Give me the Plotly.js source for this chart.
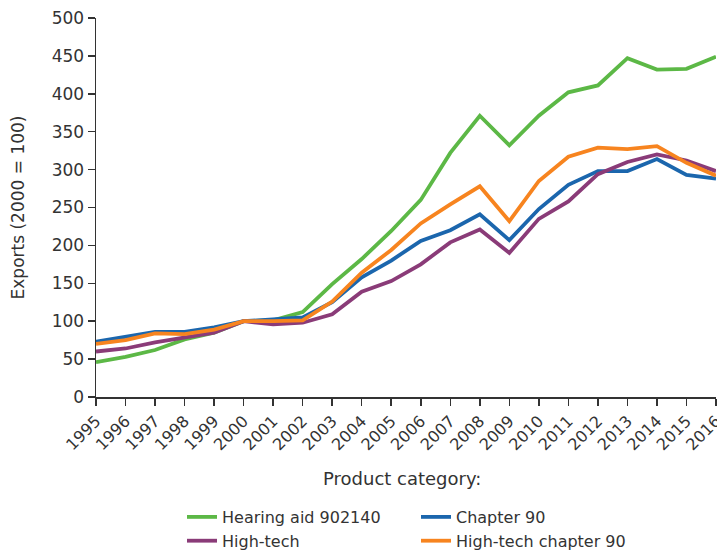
<!DOCTYPE html>
<html>
<head>
<meta charset="utf-8">
<script src="https://cdn.plot.ly/plotly-3.0.1.min.js"></script>
<style>html,body{margin:0;padding:0;background:#fff;}#chart{width:717px;height:550px;}</style>
</head>
<body>
<div id="chart"></div>
<script>
const years = ["1995","1996","1997","1998","1999","2000","2001","2002","2003","2004","2005","2006","2007","2008","2009","2010","2011","2012","2013","2014","2015","2016"];
const hearingAid = [46,53,62,76,85,100,101,112,149,182,219,260,322,371,332,371,402,411,447,432,433,449];
const chapter90 = [73,79,86,86,92,100,102,105,125,158,180,206,220,241,207,248,280,298,298,314,293,288];
const highTech = [60,64,72,78,85,100,96,98,109,139,153,175,204,221,190,235,258,294,310,320,312,298];
const highTechCh90 = [70,75,84,83,89,100,100,101,126,164,194,229,254,278,232,285,317,329,327,331,309,292];
const seriesNames = ["Hearing aid 902140","Chapter 90","High-tech","High-tech chapter 90"];
const colors = ["#5cb846","#1b66ad","#8a3b78","#f7841f"];
const seriesData = [hearingAid, chapter90, highTech, highTechCh90];
const legendOf = ["legend","legend2","legend","legend2"];

const font = "'DejaVu Sans', sans-serif";
const txt = '#333';
const traces = seriesData.map((d,i)=>({
  x: years, y: d, name: seriesNames[i], type: 'scatter', mode: 'lines',
  line: {color: colors[i], width: 3.8}, legend: legendOf[i]
}));

const legendBase = {
  orientation: 'v', xref: 'paper', yref: 'container',
  yanchor: 'top', xanchor: 'left',
  font: {size: 16, color: txt, family: font},
  traceorder: 'normal', itemwidth: 30, bgcolor: 'rgba(0,0,0,0)'
};

const layout = {
  width: 717, height: 550,
  margin: {l: 96, r: 1, t: 18, b: 153},
  paper_bgcolor: '#fff', plot_bgcolor: '#fff',
  font: {family: font, color: txt, size: 16},
  showlegend: true,
  legend: Object.assign({}, legendBase, {x: (182-96)/620, y: 1 - 500/550}),
  legend2: Object.assign({}, legendBase, {x: (416-96)/620, y: 1 - 500/550}),
  xaxis: {
    type: 'category', range: [0, 21],
    showgrid: false, zeroline: false,
    showline: true, linecolor: txt, linewidth: 1.5,
    ticks: 'outside', ticklen: 7, tickcolor: txt, tickwidth: 1.5,
    tickangle: -45, tickfont: {size: 16, color: txt}
  },
  yaxis: {
    range: [0, 500], dtick: 50,
    showgrid: false, zeroline: false,
    showline: true, linecolor: txt, linewidth: 1.5,
    ticks: 'outside', ticklen: 7, tickcolor: txt, tickwidth: 1.5,
    tickfont: {size: 17, color: txt},
    title: {text: 'Exports (2000 = 100)', font: {size: 17, color: txt}, standoff: 22}
  },
  annotations: [{
    text: 'Product category:', xref: 'paper', yref: 'paper',
    x: (402-96)/620, y: -(478-397)/379, xanchor: 'center', yanchor: 'middle',
    showarrow: false, font: {size: 18, color: txt}
  }]
};

Plotly.newPlot('chart', traces, layout, {displayModeBar: false, staticPlot: true});
</script>
</body>
</html>
